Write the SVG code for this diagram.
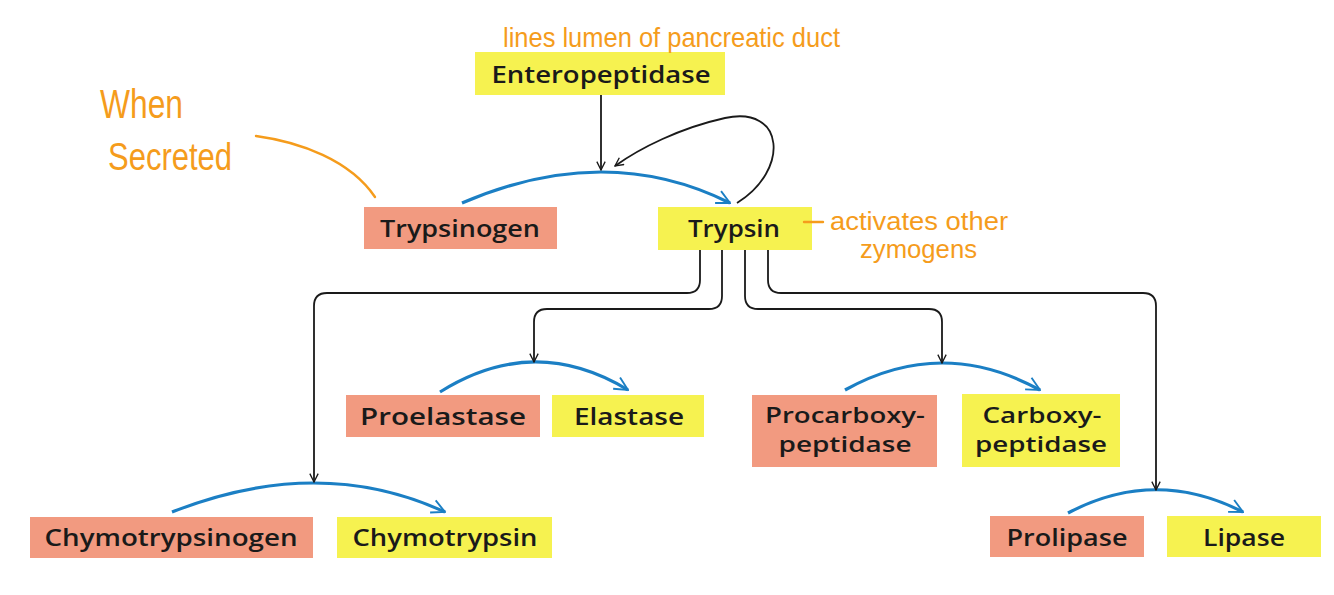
<svg xmlns="http://www.w3.org/2000/svg" width="1334" height="595" viewBox="0 0 1334 595">
<style>
.bg{fill:#ffffff}
.pro{fill:#f29a80}
.act{fill:#f6f250}
.lbl{font-family:"Open Sans","Liberation Sans",sans-serif;font-weight:600;font-size:23px;fill:#1a1a1a;text-anchor:middle}
.lb2{font-family:"Open Sans","Liberation Sans",sans-serif;font-weight:600;font-size:22px;fill:#1a1a1a;text-anchor:middle}
.blk{fill:none;stroke:#1a1a1a;stroke-width:1.8}
.blu{fill:none;stroke:#1b7fc4;stroke-width:3.2}
.note{font-family:"Liberation Sans","DejaVu Sans",sans-serif;fill:#f59c1c}
.pen{fill:none;stroke:#f59c1c;stroke-width:2.4;stroke-linecap:round}
</style>
<defs>
<marker id="ab" viewBox="0 0 12 12" refX="11" refY="6" markerWidth="10" markerHeight="10" markerUnits="userSpaceOnUse" orient="auto">
<path d="M1,1 L11,6 L1,11" fill="none" stroke="#1a1a1a" stroke-width="1.6"/>
</marker>
<marker id="au" viewBox="0 0 12 12" refX="11" refY="6" markerWidth="16" markerHeight="16" markerUnits="userSpaceOnUse" orient="auto">
<path d="M1,1 L11,6 L1,11" fill="none" stroke="#1b7fc4" stroke-width="1.4"/>
</marker>
</defs>
<rect class="bg" x="0" y="0" width="1334" height="595"/>

<g id="enteropeptidase"><rect class="act" x="475" y="52" width="250" height="43"/><text class="lbl" x="601" y="83" textLength="219" lengthAdjust="spacingAndGlyphs">Enteropeptidase</text></g>
<g id="trypsinogen"><rect class="pro" x="364" y="207" width="193" height="42"/><text class="lbl" x="460" y="237" textLength="160" lengthAdjust="spacingAndGlyphs">Trypsinogen</text></g>
<g id="trypsin"><rect class="act" x="658" y="207" width="154" height="43"/><text class="lbl" x="734" y="237" textLength="92" lengthAdjust="spacingAndGlyphs">Trypsin</text></g>
<g id="proelastase"><rect class="pro" x="346" y="395" width="194" height="42"/><text class="lbl" x="443" y="425" textLength="166" lengthAdjust="spacingAndGlyphs">Proelastase</text></g>
<g id="elastase"><rect class="act" x="552" y="395" width="152" height="42"/><text class="lbl" x="629" y="425" textLength="110" lengthAdjust="spacingAndGlyphs">Elastase</text></g>
<g id="procarboxypeptidase"><rect class="pro" x="752" y="395" width="185" height="72"/><text class="lb2" x="845" y="423" textLength="160" lengthAdjust="spacingAndGlyphs">Procarboxy-</text><text class="lb2" x="845" y="452" textLength="133" lengthAdjust="spacingAndGlyphs">peptidase</text></g>
<g id="carboxypeptidase"><rect class="act" x="962" y="394" width="158" height="73"/><text class="lb2" x="1042" y="423" textLength="119" lengthAdjust="spacingAndGlyphs">Carboxy-</text><text class="lb2" x="1041" y="452" textLength="132" lengthAdjust="spacingAndGlyphs">peptidase</text></g>
<g id="chymotrypsinogen"><rect class="pro" x="30" y="517" width="283" height="41"/><text class="lbl" x="171" y="546" textLength="253" lengthAdjust="spacingAndGlyphs">Chymotrypsinogen</text></g>
<g id="chymotrypsin"><rect class="act" x="337" y="517" width="215" height="41"/><text class="lbl" x="445" y="546" textLength="185" lengthAdjust="spacingAndGlyphs">Chymotrypsin</text></g>
<g id="prolipase"><rect class="pro" x="990" y="516" width="154" height="41"/><text class="lbl" x="1067" y="546" textLength="121" lengthAdjust="spacingAndGlyphs">Prolipase</text></g>
<g id="lipase"><rect class="act" x="1167" y="516" width="154" height="41"/><text class="lbl" x="1244" y="546" textLength="82" lengthAdjust="spacingAndGlyphs">Lipase</text></g>

<g id="connectors">
<path class="blu" d="M462,203 Q606,141 730,203" marker-end="url(#au)"/>
<path class="blu" d="M172,512 Q319,454 445,512" marker-end="url(#au)"/>
<path class="blu" d="M440,392 Q534,333 628,390" marker-end="url(#au)"/>
<path class="blu" d="M845,390 Q942,336 1040,390" marker-end="url(#au)"/>
<path class="blu" d="M1068,513 Q1155,467 1243,512" marker-end="url(#au)"/>
<path class="blk" d="M601,95 V170" marker-end="url(#ab)"/>
<path class="blk" d="M737,203 C790,170 785,105 725,118 C680,128 640,148 615,166" marker-end="url(#ab)"/>
<path class="blk" d="M700,250 V280 Q700,293 687,293 H327 Q314,293 314,306 V482" marker-end="url(#ab)"/>
<path class="blk" d="M722,250 V296 Q722,309 709,309 H547 Q534,309 534,322 V362" marker-end="url(#ab)"/>
<path class="blk" d="M745,250 V296 Q745,309 758,309 H929 Q942,309 942,322 V363" marker-end="url(#ab)"/>
<path class="blk" d="M768,250 V280 Q768,293 781,293 H1143 Q1156,293 1156,306 V490" marker-end="url(#ab)"/>
</g>

<g id="annotations">
<text class="note" x="503" y="47" font-size="28" textLength="337" lengthAdjust="spacingAndGlyphs">lines lumen of pancreatic duct</text>
<text class="note" x="100" y="118" font-size="40" textLength="83" lengthAdjust="spacingAndGlyphs">When</text>
<text class="note" x="108" y="170" font-size="38" textLength="124" lengthAdjust="spacingAndGlyphs">Secreted</text>
<path class="pen" d="M256,136 C300,142 350,160 375,197"/>
<path class="pen" d="M804,222 H823"/>
<text class="note" x="830" y="230" font-size="26" textLength="178" lengthAdjust="spacingAndGlyphs">activates other</text>
<text class="note" x="860" y="258" font-size="26" textLength="117" lengthAdjust="spacingAndGlyphs">zymogens</text>
</g>
</svg>
